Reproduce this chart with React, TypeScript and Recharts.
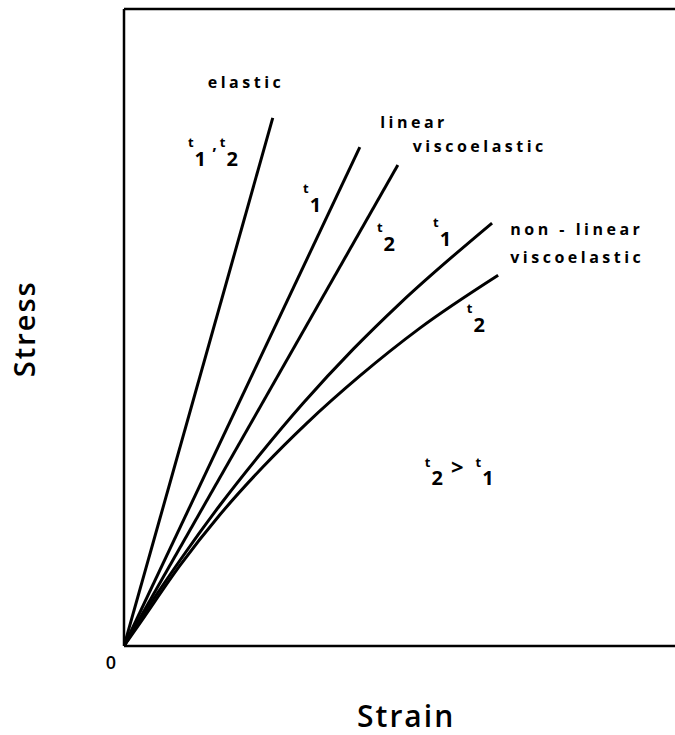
import { LineChart, Line, XAxis, YAxis, ReferenceLine, ReferenceDot } from 'recharts'

// strain (x) and stress (y), arbitrary units 0–100
const elasticX = [0, 27.0]
const elasticY = [0, 82.9]
const linearT1X = [0, 42.8]
const linearT1Y = [0, 78.3]
const linearT2X = [0, 49.7]
const linearT2Y = [0, 75.5]
const nonLinearT1X = [0, 2.9, 10.2, 17.4, 24.7, 32.5, 41.6, 50.1, 66.8]
const nonLinearT1Y = [0, 4.1, 13.5, 22.1, 30.1, 38.1, 46.6, 53.8, 66.4]
const nonLinearT2X = [0, 2.9, 10.2, 17.4, 25.2, 33.2, 42.8, 53.7, 67.9]
const nonLinearT2Y = [0, 3.6, 12.7, 20.6, 28.1, 35.0, 42.4, 49.9, 58.2]

const toPoints = (xs: number[], ys: number[]) => xs.map((x, i) => ({ x, y: ys[i] }))

const series = [
    { name: 'elastic', data: toPoints(elasticX, elasticY) },
    { name: 'linear t1', data: toPoints(linearT1X, linearT1Y) },
    { name: 'linear t2', data: toPoints(linearT2X, linearT2Y) },
    { name: 'non-linear t1', data: toPoints(nonLinearT1X, nonLinearT1Y) },
    { name: 'non-linear t2', data: toPoints(nonLinearT2X, nonLinearT2Y) },
]

const FONT = '"Open Sans", sans-serif'

// plain word labels
const wordLabels = [
    { text: 'elastic', x: 15.2, y: 87.6 },
    { text: 'linear', x: 46.5, y: 81.3 },
    { text: 'viscoelastic', x: 52.4, y: 77.6 },
    { text: 'non - linear', x: 70.1, y: 64.5 },
    { text: 'viscoelastic', x: 70.1, y: 60.1 },
]

// time labels, "t" with a subscript
const timeLabels = [
    { sub: '1', x: 11.6, y: 78.3 },
    { sub: '2', x: 17.4, y: 78.3 },
    { sub: '1', x: 32.5, y: 71.1 },
    { sub: '2', x: 45.9, y: 65.0 },
    { sub: '1', x: 56.1, y: 65.8 },
    { sub: '2', x: 62.2, y: 52.3 },
]

const TSub = ({ cx, cy, sub }: any) => (
    <text x={cx} y={cy} fontFamily={FONT} fontWeight={700} fill="#000">
        <tspan fontSize={13}>t</tspan>
        <tspan fontSize={20} dx={1} dy={19}>
            {sub}
        </tspan>
    </text>
)

const Word = ({ cx, cy, text }: any) => (
    <text
        x={cx}
        y={cy}
        fontFamily={FONT}
        fontWeight={700}
        fontSize={16}
        letterSpacing={3.5}
        fill="#000"
    >
        {text}
    </text>
)

const Inequality = ({ cx, cy }: any) => (
    <text x={cx} y={cy} fontFamily={FONT} fontWeight={700} fill="#000">
        <tspan fontSize={13}>t</tspan>
        <tspan fontSize={20} dx={1} dy={18}>2</tspan>
        <tspan fontSize={22} dx={8} dy={-10}>&gt;</tspan>
        <tspan fontSize={13} dx={12} dy={-8}>t</tspan>
        <tspan fontSize={20} dx={1} dy={18}>1</tspan>
    </text>
)

const App = () => {
    return (
        <div style={{ position: 'absolute', left: 0, top: 0, background: '#fff' }}>
            <LineChart
                width={675}
                height={735}
                margin={{ top: 9, right: 0, left: 124, bottom: 89 }}
            >
                <XAxis type="number" dataKey="x" domain={[0, 100]} hide allowDataOverflow />
                <YAxis type="number" dataKey="y" domain={[0, 100]} hide allowDataOverflow />
                <ReferenceLine x={0} stroke="#000" strokeWidth={2.5} ifOverflow="visible" />
                <ReferenceLine y={0} stroke="#000" strokeWidth={2.5} ifOverflow="visible" />
                <ReferenceLine y={100} stroke="#000" strokeWidth={2.5} ifOverflow="visible" />
                {series.map((s) => (
                    <Line
                        key={s.name}
                        data={s.data}
                        dataKey="y"
                        type="monotone"
                        stroke="#000"
                        strokeWidth={3}
                        dot={false}
                        isAnimationActive={false}
                    />
                ))}
                {wordLabels.map((l, i) => (
                    <ReferenceDot
                        key={`w${i}`}
                        x={l.x}
                        y={l.y}
                        ifOverflow="visible"
                        shape={(p: any) => <Word cx={p.cx} cy={p.cy} text={l.text} />}
                    />
                ))}
                {timeLabels.map((l, i) => (
                    <ReferenceDot
                        key={`t${i}`}
                        x={l.x}
                        y={l.y}
                        ifOverflow="visible"
                        shape={(p: any) => <TSub cx={p.cx} cy={p.cy} sub={l.sub} />}
                    />
                ))}
                <ReferenceDot
                    x={16.0}
                    y={77.8}
                    ifOverflow="visible"
                    shape={(p: any) => (
                        <text x={p.cx} y={p.cy} fontFamily={FONT} fontWeight={700} fontSize={16}>
                            ,
                        </text>
                    )}
                />
                <ReferenceDot
                    x={54.6}
                    y={28.1}
                    ifOverflow="visible"
                    shape={(p: any) => <Inequality cx={p.cx} cy={p.cy} />}
                />
                <ReferenceDot
                    x={-2.4}
                    y={-3.6}
                    ifOverflow="visible"
                    shape={(p: any) => (
                        <text x={p.cx} y={p.cy} textAnchor="middle" fontFamily={FONT} fontWeight={600} fontSize={18}>
                            0
                        </text>
                    )}
                />
                <ReferenceDot
                    x={42.3}
                    y={-12.7}
                    ifOverflow="visible"
                    shape={(p: any) => (
                        <text x={p.cx} y={p.cy} fontFamily={FONT} fontWeight={600} fontSize={30} letterSpacing={2}>
                            Strain
                        </text>
                    )}
                />
                <ReferenceDot
                    x={-16.2}
                    y={49.8}
                    ifOverflow="visible"
                    shape={(p: any) => (
                        <text
                            x={p.cx}
                            y={p.cy}
                            textAnchor="middle"
                            transform={`rotate(-90, ${p.cx}, ${p.cy})`}
                            fontFamily={FONT}
                            fontWeight={600}
                            fontSize={29}
                            letterSpacing={2}
                        >
                            Stress
                        </text>
                    )}
                />
            </LineChart>
        </div>
    )
}

export default App
